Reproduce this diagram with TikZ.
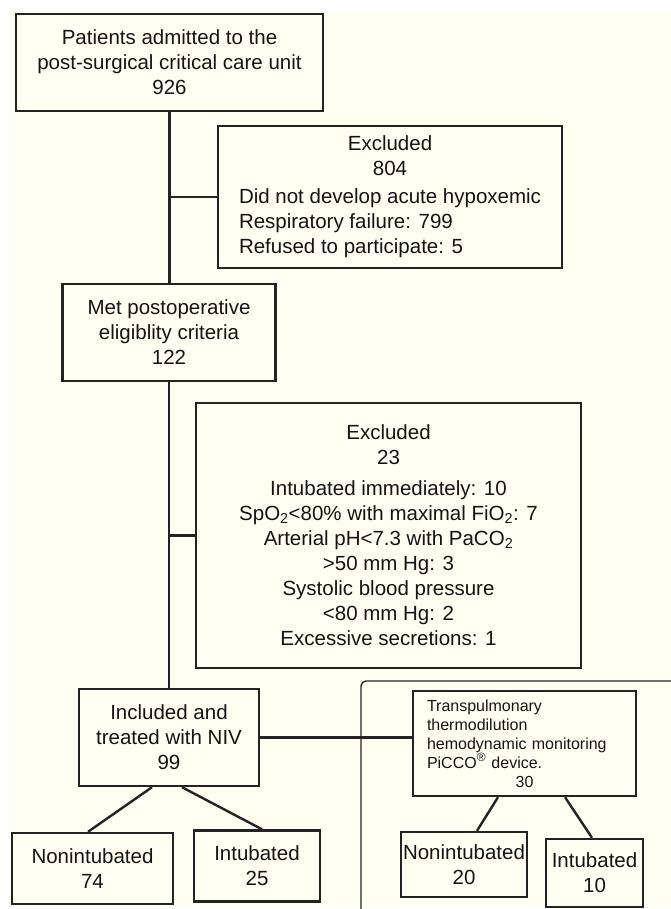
\documentclass[tikz,border=0pt]{standalone}
\usepackage{fontspec}
\setmainfont{Liberation Sans}
\usepackage{tikz}
\definecolor{cream}{RGB}{255,255,242}
\definecolor{linegray}{RGB}{35,35,35}
\tikzset{
  box/.style={draw=linegray, line width=2.4pt, rectangle, inner sep=0pt, align=center, text=black!92, font=\fontsize{20.5}{25}\selectfont},
  link/.style={draw=linegray, line width=2.4pt},
}

\begin{document}
\begin{tikzpicture}[x=1pt,y=1pt,yscale=-1]
\useasboundingbox (0,0) rectangle (671,909);
%Shape: Background
\fill[cream] (10,11) rectangle (671,906);
%Shape: Frame of the monitored group
\draw[linegray, line width=1.4pt, rounded corners=5] (671,681) -| (361,909);

% Boxes
\node[box, minimum width=307, minimum height=97] (patients) at (169.5,62.5) {Patients admitted to the\\post-surgical critical care unit\\926};
\node[box, minimum width=344, minimum height=142] (excl1) at (390,197) {Excluded\\804\\[3pt]\makebox[302pt][l]{Did not develop acute hypoxemic}\\\makebox[302pt][l]{Respiratory failure: 799}\\\makebox[302pt][l]{Refused to participate: 5}};
\node[box, minimum width=385, minimum height=265] (excl2) at (388.5,535.5) {Excluded\\23\\[6pt]Intubated immediately: 10\\SpO\textsubscript{2}<80\% with maximal FiO\textsubscript{2}: 7\\Arterial pH<7.3 with PaCO\textsubscript{2}\\>50 mm Hg: 3\\Systolic blood pressure\\<80 mm Hg: 2\\Excessive secretions: 1};
\node[box, minimum width=213, minimum height=97] (met) at (169,332.5) {Met postoperative\\eligiblity criteria\\122};
\node[box, minimum width=180, minimum height=97] (inc) at (169,737.5) {Included and\\treated with NIV\\99};
\node[box, align=left, text width=195, inner xsep=14, minimum height=105, font=\fontsize{16}{19}\selectfont] (picco) at (524.5,743.5) {Transpulmonary\\thermodilution\\hemodynamic monitoring\\PiCCO\textsuperscript{\large ®} device.\\\makebox[195pt]{30}};
\node[box, minimum width=161, minimum height=71] (non74) at (92.5,868.5) {Nonintubated\\74};
\node[box, minimum width=126, minimum height=71] (int25) at (257,866) {Intubated\\25};
\node[box, minimum width=126, minimum height=65] (non20) at (464,864.5) {Nonintubated\\20};
\node[box, minimum width=97, minimum height=68] (int10) at (594.5,873) {Intubated\\10};

% Connectors
\draw[link] (patients.south) -- (patients.south |- met.north);
\draw[link] (patients.south |- excl1.west) -- (excl1.west);
\draw[link] (met.south) -- (met.south |- inc.north);
\draw[link] (met.south |- excl2.west) -- (excl2.west);
\draw[link] (inc.east) -- (inc.east -| picco.west);
\draw[link] ([xshift=-17]inc.south) -- ([xshift=-4.5]non74.north);
\draw[link] ([xshift=13]inc.south) -- ([xshift=5]int25.north);
\draw[link] ([xshift=-26.5]picco.south) -- ([xshift=13]non20.north);
\draw[link] ([xshift=40.5]picco.south) -- ([xshift=-2.5]int10.north);
\end{tikzpicture}
\end{document}
